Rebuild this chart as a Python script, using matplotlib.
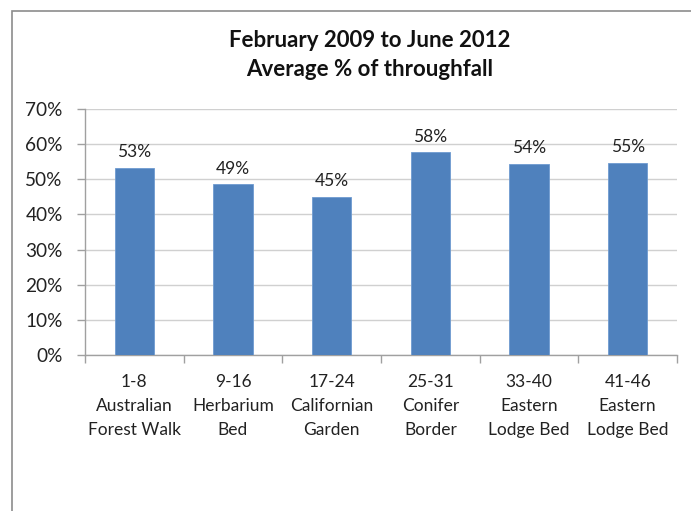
import matplotlib
matplotlib.use("Agg")
import matplotlib.pyplot as plt
from matplotlib.patches import Rectangle
import numpy as np

# Data
categories = [
    "1-8\nAustralian\nForest Walk",
    "9-16\nHerbarium\nBed",
    "17-24\nCalifornian\nGarden",
    "25-31\nConifer\nBorder",
    "33-40\nEastern\nLodge Bed",
    "41-46\nEastern\nLodge Bed",
]
values = [53.2, 48.6, 45.1, 57.7, 54.4, 54.6]
value_labels = ["53%", "49%", "45%", "58%", "54%", "55%"]
y_ticks = [0, 10, 20, 30, 40, 50, 60, 70]
title = "February 2009 to June 2012\nAverage % of throughfall"

plt.rcParams["font.family"] = ["Lato", "DejaVu Sans"]

W, H = 691, 511
fig = plt.figure(figsize=(W / 100, H / 100), dpi=100)
fig.patch.set_facecolor("white")

# Chart frame (right and bottom edges fall outside the canvas)
fig.add_artist(Rectangle((12 / W, -0.1), 1.2, 1 - 11 / H + 0.1,
                         transform=fig.transFigure, fill=False,
                         edgecolor="#8c8c8c", linewidth=1.2))

ax = fig.add_axes([85 / W, 1 - 355 / H, (677 - 85) / W, (355 - 109) / H])
x = np.arange(len(categories))
bar_color = "#4f81bd"
ax.bar(x, values, width=0.4, color=bar_color, edgecolor="#6f9bd0",
       linewidth=0.6, zorder=3)

for xi, v, lab in zip(x, values, value_labels):
    ax.annotate(lab, (xi, v), xytext=(0, 5.5), textcoords="offset points",
                ha="center", va="bottom", fontsize=12.5, color="#222222")

ax.set_xlim(-0.5, len(categories) - 0.5)
ax.set_ylim(0, 70)
ax.set_yticks(y_ticks)
ax.set_yticklabels([f"{t}%" for t in y_ticks], fontsize=13.7, color="#222222")
ax.yaxis.grid(True, color="#d0d0d0", linewidth=1.0, zorder=0)
ax.set_axisbelow(True)

ax.set_xticks(x)
ax.set_xticklabels(categories, fontsize=12.5, color="#222222", linespacing=1.6)
ax.tick_params(axis="x", length=0, pad=14)
ax.set_xticks(np.arange(len(categories) + 1) - 0.5, minor=True)
ax.tick_params(axis="x", which="minor", length=6, color="#a0a0a0", width=1)
ax.tick_params(axis="y", length=6, color="#a0a0a0", width=1, pad=10)

for side in ("top", "right"):
    ax.spines[side].set_visible(False)
for side in ("left", "bottom"):
    ax.spines[side].set_color("#a0a0a0")
    ax.spines[side].set_linewidth(1)

fig.text(370 / W, 1 - 55 / H, title, ha="center", va="center",
         fontsize=16, fontweight="bold", color="#111111", linespacing=1.45)

fig.savefig("out.png", dpi=100, facecolor="white")
